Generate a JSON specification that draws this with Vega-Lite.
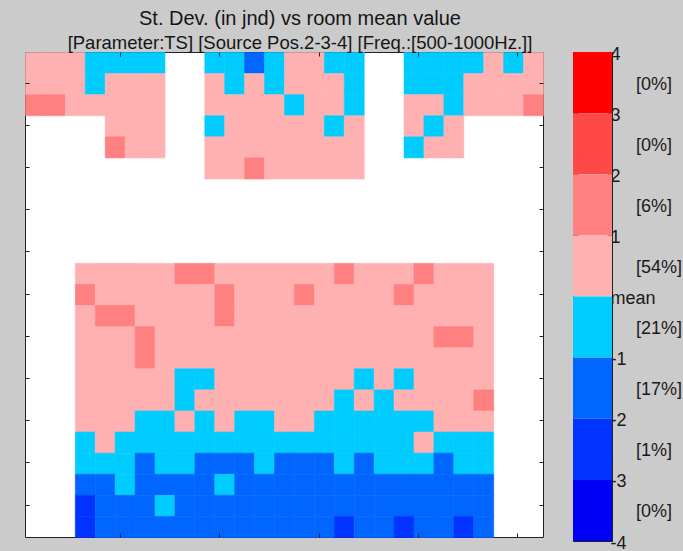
{
  "$schema": "https://vega.github.io/schema/vega-lite/v6.json",
  "background": "#CBCBCB",
  "padding": {"left": 24, "top": 8, "right": 0, "bottom": 0},
  "config": {
    "font": "Liberation Sans",
    "view": {"stroke": "#222222", "fill": "white", "strokeWidth": 1},
    "axis": {"domain": false, "grid": false, "labels": false, "tickColor": "#222222", "tickSize": -4, "tickWidth": 1}
  },
  "datasets": {
    "cells": [
      {"x":0,"y":0,"v":1},{"x":1,"y":0,"v":1},{"x":2,"y":0,"v":1},{"x":3,"y":0,"v":-1},{"x":4,"y":0,"v":-1},{"x":5,"y":0,"v":-1},{"x":6,"y":0,"v":-1},
      {"x":0,"y":1,"v":1},{"x":1,"y":1,"v":1},{"x":2,"y":1,"v":1},{"x":3,"y":1,"v":-1},{"x":4,"y":1,"v":1},{"x":5,"y":1,"v":1},{"x":6,"y":1,"v":1},
      {"x":0,"y":2,"v":2},{"x":1,"y":2,"v":2},{"x":2,"y":2,"v":1},{"x":3,"y":2,"v":1},{"x":4,"y":2,"v":1},{"x":5,"y":2,"v":1},{"x":6,"y":2,"v":1},
      {"x":4,"y":3,"v":1},{"x":5,"y":3,"v":1},{"x":6,"y":3,"v":1},
      {"x":4,"y":4,"v":2},{"x":5,"y":4,"v":1},{"x":6,"y":4,"v":1},

      {"x":9,"y":0,"v":-1},{"x":10,"y":0,"v":-1},{"x":11,"y":0,"v":-2},{"x":12,"y":0,"v":-1},{"x":13,"y":0,"v":1},{"x":14,"y":0,"v":1},{"x":15,"y":0,"v":-1},{"x":16,"y":0,"v":-1},
      {"x":9,"y":1,"v":1},{"x":10,"y":1,"v":-1},{"x":11,"y":1,"v":1},{"x":12,"y":1,"v":-1},{"x":13,"y":1,"v":1},{"x":14,"y":1,"v":1},{"x":15,"y":1,"v":1},{"x":16,"y":1,"v":-1},
      {"x":9,"y":2,"v":1},{"x":10,"y":2,"v":1},{"x":11,"y":2,"v":1},{"x":12,"y":2,"v":1},{"x":13,"y":2,"v":-1},{"x":14,"y":2,"v":1},{"x":15,"y":2,"v":1},{"x":16,"y":2,"v":-1},
      {"x":9,"y":3,"v":-1},{"x":10,"y":3,"v":1},{"x":11,"y":3,"v":1},{"x":12,"y":3,"v":1},{"x":13,"y":3,"v":1},{"x":14,"y":3,"v":1},{"x":15,"y":3,"v":-1},{"x":16,"y":3,"v":1},
      {"x":9,"y":4,"v":1},{"x":10,"y":4,"v":1},{"x":11,"y":4,"v":1},{"x":12,"y":4,"v":1},{"x":13,"y":4,"v":1},{"x":14,"y":4,"v":1},{"x":15,"y":4,"v":1},{"x":16,"y":4,"v":1},
      {"x":9,"y":5,"v":1},{"x":10,"y":5,"v":1},{"x":11,"y":5,"v":2},{"x":12,"y":5,"v":1},{"x":13,"y":5,"v":1},{"x":14,"y":5,"v":1},{"x":15,"y":5,"v":1},{"x":16,"y":5,"v":1},

      {"x":19,"y":0,"v":-1},{"x":20,"y":0,"v":-1},{"x":21,"y":0,"v":-1},{"x":22,"y":0,"v":-1},{"x":23,"y":0,"v":1},{"x":24,"y":0,"v":-1},{"x":25,"y":0,"v":1},
      {"x":19,"y":1,"v":-1},{"x":20,"y":1,"v":-1},{"x":21,"y":1,"v":-1},{"x":22,"y":1,"v":1},{"x":23,"y":1,"v":1},{"x":24,"y":1,"v":1},{"x":25,"y":1,"v":1},
      {"x":19,"y":2,"v":1},{"x":20,"y":2,"v":1},{"x":21,"y":2,"v":-1},{"x":22,"y":2,"v":1},{"x":23,"y":2,"v":1},{"x":24,"y":2,"v":1},{"x":25,"y":2,"v":2},
      {"x":19,"y":3,"v":1},{"x":20,"y":3,"v":-1},{"x":21,"y":3,"v":1},
      {"x":19,"y":4,"v":-1},{"x":20,"y":4,"v":1},{"x":21,"y":4,"v":1},

      {"x":2.5,"y":10,"v":1},{"x":3.5,"y":10,"v":1},{"x":4.5,"y":10,"v":1},{"x":5.5,"y":10,"v":1},{"x":6.5,"y":10,"v":1},{"x":7.5,"y":10,"v":2},{"x":8.5,"y":10,"v":2},{"x":9.5,"y":10,"v":1},{"x":10.5,"y":10,"v":1},{"x":11.5,"y":10,"v":1},{"x":12.5,"y":10,"v":1},{"x":13.5,"y":10,"v":1},{"x":14.5,"y":10,"v":1},{"x":15.5,"y":10,"v":2},{"x":16.5,"y":10,"v":1},{"x":17.5,"y":10,"v":1},{"x":18.5,"y":10,"v":1},{"x":19.5,"y":10,"v":2},{"x":20.5,"y":10,"v":1},{"x":21.5,"y":10,"v":1},{"x":22.5,"y":10,"v":1},
      {"x":2.5,"y":11,"v":2},{"x":3.5,"y":11,"v":1},{"x":4.5,"y":11,"v":1},{"x":5.5,"y":11,"v":1},{"x":6.5,"y":11,"v":1},{"x":7.5,"y":11,"v":1},{"x":8.5,"y":11,"v":1},{"x":9.5,"y":11,"v":2},{"x":10.5,"y":11,"v":1},{"x":11.5,"y":11,"v":1},{"x":12.5,"y":11,"v":1},{"x":13.5,"y":11,"v":2},{"x":14.5,"y":11,"v":1},{"x":15.5,"y":11,"v":1},{"x":16.5,"y":11,"v":1},{"x":17.5,"y":11,"v":1},{"x":18.5,"y":11,"v":2},{"x":19.5,"y":11,"v":1},{"x":20.5,"y":11,"v":1},{"x":21.5,"y":11,"v":1},{"x":22.5,"y":11,"v":1},
      {"x":2.5,"y":12,"v":1},{"x":3.5,"y":12,"v":2},{"x":4.5,"y":12,"v":2},{"x":5.5,"y":12,"v":1},{"x":6.5,"y":12,"v":1},{"x":7.5,"y":12,"v":1},{"x":8.5,"y":12,"v":1},{"x":9.5,"y":12,"v":2},{"x":10.5,"y":12,"v":1},{"x":11.5,"y":12,"v":1},{"x":12.5,"y":12,"v":1},{"x":13.5,"y":12,"v":1},{"x":14.5,"y":12,"v":1},{"x":15.5,"y":12,"v":1},{"x":16.5,"y":12,"v":1},{"x":17.5,"y":12,"v":1},{"x":18.5,"y":12,"v":1},{"x":19.5,"y":12,"v":1},{"x":20.5,"y":12,"v":1},{"x":21.5,"y":12,"v":1},{"x":22.5,"y":12,"v":1},
      {"x":2.5,"y":13,"v":1},{"x":3.5,"y":13,"v":1},{"x":4.5,"y":13,"v":1},{"x":5.5,"y":13,"v":2},{"x":6.5,"y":13,"v":1},{"x":7.5,"y":13,"v":1},{"x":8.5,"y":13,"v":1},{"x":9.5,"y":13,"v":1},{"x":10.5,"y":13,"v":1},{"x":11.5,"y":13,"v":1},{"x":12.5,"y":13,"v":1},{"x":13.5,"y":13,"v":1},{"x":14.5,"y":13,"v":1},{"x":15.5,"y":13,"v":1},{"x":16.5,"y":13,"v":1},{"x":17.5,"y":13,"v":1},{"x":18.5,"y":13,"v":1},{"x":19.5,"y":13,"v":1},{"x":20.5,"y":13,"v":2},{"x":21.5,"y":13,"v":2},{"x":22.5,"y":13,"v":1},
      {"x":2.5,"y":14,"v":1},{"x":3.5,"y":14,"v":1},{"x":4.5,"y":14,"v":1},{"x":5.5,"y":14,"v":2},{"x":6.5,"y":14,"v":1},{"x":7.5,"y":14,"v":1},{"x":8.5,"y":14,"v":1},{"x":9.5,"y":14,"v":1},{"x":10.5,"y":14,"v":1},{"x":11.5,"y":14,"v":1},{"x":12.5,"y":14,"v":1},{"x":13.5,"y":14,"v":1},{"x":14.5,"y":14,"v":1},{"x":15.5,"y":14,"v":1},{"x":16.5,"y":14,"v":1},{"x":17.5,"y":14,"v":1},{"x":18.5,"y":14,"v":1},{"x":19.5,"y":14,"v":1},{"x":20.5,"y":14,"v":1},{"x":21.5,"y":14,"v":1},{"x":22.5,"y":14,"v":1},
      {"x":2.5,"y":15,"v":1},{"x":3.5,"y":15,"v":1},{"x":4.5,"y":15,"v":1},{"x":5.5,"y":15,"v":1},{"x":6.5,"y":15,"v":1},{"x":7.5,"y":15,"v":-1},{"x":8.5,"y":15,"v":-1},{"x":9.5,"y":15,"v":1},{"x":10.5,"y":15,"v":1},{"x":11.5,"y":15,"v":1},{"x":12.5,"y":15,"v":1},{"x":13.5,"y":15,"v":1},{"x":14.5,"y":15,"v":1},{"x":15.5,"y":15,"v":1},{"x":16.5,"y":15,"v":-1},{"x":17.5,"y":15,"v":1},{"x":18.5,"y":15,"v":-1},{"x":19.5,"y":15,"v":1},{"x":20.5,"y":15,"v":1},{"x":21.5,"y":15,"v":1},{"x":22.5,"y":15,"v":1},
      {"x":2.5,"y":16,"v":1},{"x":3.5,"y":16,"v":1},{"x":4.5,"y":16,"v":1},{"x":5.5,"y":16,"v":1},{"x":6.5,"y":16,"v":1},{"x":7.5,"y":16,"v":-1},{"x":8.5,"y":16,"v":1},{"x":9.5,"y":16,"v":1},{"x":10.5,"y":16,"v":1},{"x":11.5,"y":16,"v":1},{"x":12.5,"y":16,"v":1},{"x":13.5,"y":16,"v":1},{"x":14.5,"y":16,"v":1},{"x":15.5,"y":16,"v":-1},{"x":16.5,"y":16,"v":1},{"x":17.5,"y":16,"v":-1},{"x":18.5,"y":16,"v":1},{"x":19.5,"y":16,"v":1},{"x":20.5,"y":16,"v":1},{"x":21.5,"y":16,"v":1},{"x":22.5,"y":16,"v":2},
      {"x":2.5,"y":17,"v":1},{"x":3.5,"y":17,"v":1},{"x":4.5,"y":17,"v":1},{"x":5.5,"y":17,"v":-1},{"x":6.5,"y":17,"v":-1},{"x":7.5,"y":17,"v":1},{"x":8.5,"y":17,"v":-1},{"x":9.5,"y":17,"v":1},{"x":10.5,"y":17,"v":-1},{"x":11.5,"y":17,"v":-1},{"x":12.5,"y":17,"v":1},{"x":13.5,"y":17,"v":1},{"x":14.5,"y":17,"v":-1},{"x":15.5,"y":17,"v":-1},{"x":16.5,"y":17,"v":-1},{"x":17.5,"y":17,"v":-1},{"x":18.5,"y":17,"v":-1},{"x":19.5,"y":17,"v":-1},{"x":20.5,"y":17,"v":1},{"x":21.5,"y":17,"v":1},{"x":22.5,"y":17,"v":1},
      {"x":2.5,"y":18,"v":-1},{"x":3.5,"y":18,"v":1},{"x":4.5,"y":18,"v":-1},{"x":5.5,"y":18,"v":-1},{"x":6.5,"y":18,"v":-1},{"x":7.5,"y":18,"v":-1},{"x":8.5,"y":18,"v":-1},{"x":9.5,"y":18,"v":-1},{"x":10.5,"y":18,"v":-1},{"x":11.5,"y":18,"v":-1},{"x":12.5,"y":18,"v":-1},{"x":13.5,"y":18,"v":-1},{"x":14.5,"y":18,"v":-1},{"x":15.5,"y":18,"v":-1},{"x":16.5,"y":18,"v":-1},{"x":17.5,"y":18,"v":-1},{"x":18.5,"y":18,"v":-1},{"x":19.5,"y":18,"v":1},{"x":20.5,"y":18,"v":-1},{"x":21.5,"y":18,"v":-1},{"x":22.5,"y":18,"v":-1},
      {"x":2.5,"y":19,"v":-1},{"x":3.5,"y":19,"v":-1},{"x":4.5,"y":19,"v":-1},{"x":5.5,"y":19,"v":-2},{"x":6.5,"y":19,"v":-1},{"x":7.5,"y":19,"v":-1},{"x":8.5,"y":19,"v":-2},{"x":9.5,"y":19,"v":-2},{"x":10.5,"y":19,"v":-2},{"x":11.5,"y":19,"v":-1},{"x":12.5,"y":19,"v":-2},{"x":13.5,"y":19,"v":-2},{"x":14.5,"y":19,"v":-2},{"x":15.5,"y":19,"v":-1},{"x":16.5,"y":19,"v":-2},{"x":17.5,"y":19,"v":-1},{"x":18.5,"y":19,"v":-1},{"x":19.5,"y":19,"v":-1},{"x":20.5,"y":19,"v":-2},{"x":21.5,"y":19,"v":-1},{"x":22.5,"y":19,"v":-1},
      {"x":2.5,"y":20,"v":-2},{"x":3.5,"y":20,"v":-2},{"x":4.5,"y":20,"v":-1},{"x":5.5,"y":20,"v":-2},{"x":6.5,"y":20,"v":-2},{"x":7.5,"y":20,"v":-2},{"x":8.5,"y":20,"v":-2},{"x":9.5,"y":20,"v":-1},{"x":10.5,"y":20,"v":-2},{"x":11.5,"y":20,"v":-2},{"x":12.5,"y":20,"v":-2},{"x":13.5,"y":20,"v":-2},{"x":14.5,"y":20,"v":-2},{"x":15.5,"y":20,"v":-2},{"x":16.5,"y":20,"v":-2},{"x":17.5,"y":20,"v":-2},{"x":18.5,"y":20,"v":-2},{"x":19.5,"y":20,"v":-2},{"x":20.5,"y":20,"v":-2},{"x":21.5,"y":20,"v":-2},{"x":22.5,"y":20,"v":-2},
      {"x":2.5,"y":21,"v":-3},{"x":3.5,"y":21,"v":-2},{"x":4.5,"y":21,"v":-2},{"x":5.5,"y":21,"v":-2},{"x":6.5,"y":21,"v":-1},{"x":7.5,"y":21,"v":-2},{"x":8.5,"y":21,"v":-2},{"x":9.5,"y":21,"v":-2},{"x":10.5,"y":21,"v":-2},{"x":11.5,"y":21,"v":-2},{"x":12.5,"y":21,"v":-2},{"x":13.5,"y":21,"v":-2},{"x":14.5,"y":21,"v":-2},{"x":15.5,"y":21,"v":-2},{"x":16.5,"y":21,"v":-2},{"x":17.5,"y":21,"v":-2},{"x":18.5,"y":21,"v":-2},{"x":19.5,"y":21,"v":-2},{"x":20.5,"y":21,"v":-2},{"x":21.5,"y":21,"v":-2},{"x":22.5,"y":21,"v":-2},
      {"x":2.5,"y":22,"v":-3},{"x":3.5,"y":22,"v":-2},{"x":4.5,"y":22,"v":-2},{"x":5.5,"y":22,"v":-2},{"x":6.5,"y":22,"v":-2},{"x":7.5,"y":22,"v":-2},{"x":8.5,"y":22,"v":-2},{"x":9.5,"y":22,"v":-2},{"x":10.5,"y":22,"v":-2},{"x":11.5,"y":22,"v":-2},{"x":12.5,"y":22,"v":-2},{"x":13.5,"y":22,"v":-2},{"x":14.5,"y":22,"v":-2},{"x":15.5,"y":22,"v":-3},{"x":16.5,"y":22,"v":-2},{"x":17.5,"y":22,"v":-2},{"x":18.5,"y":22,"v":-3},{"x":19.5,"y":22,"v":-2},{"x":20.5,"y":22,"v":-2},{"x":21.5,"y":22,"v":-3},{"x":22.5,"y":22,"v":-2}
    ],
    "bands": [
      {"lo":3,"hi":4,"v":4},{"lo":2,"hi":3,"v":3},{"lo":1,"hi":2,"v":2},{"lo":0,"hi":1,"v":1},
      {"lo":-1,"hi":0,"v":-1},{"lo":-2,"hi":-1,"v":-2},{"lo":-3,"hi":-2,"v":-3},{"lo":-4,"hi":-3,"v":-4}
    ],
    "pcts": [
      {"mid":3.5,"t":"[0%]"},{"mid":2.5,"t":"[0%]"},{"mid":1.5,"t":"[6%]"},{"mid":0.5,"t":"[54%]"},
      {"mid":-0.5,"t":"[21%]"},{"mid":-1.5,"t":"[17%]"},{"mid":-2.5,"t":"[1%]"},{"mid":-3.5,"t":"[0%]"}
    ]
  },
  "hconcat": [
    {
      "width": 518,
      "height": 485,
      "title": {
        "text": "St. Dev. (in jnd) vs room mean value",
        "subtitle": "[Parameter:TS] [Source Pos.2-3-4] [Freq.:[500-1000Hz.]]",
        "font": "Liberation Sans",
        "subtitleFont": "Liberation Sans",
        "fontSize": 20,
        "subtitleFontSize": 18.5,
        "fontWeight": "normal",
        "color": "#151515",
        "subtitleColor": "#151515",
        "anchor": "middle",
        "offset": -1,
        "subtitlePadding": 5,
        "dx": 16
      },
      "data": {"name": "cells"},
      "layer": [
        {
          "mark": {"type": "rect", "strokeWidth": 0.6},
          "encoding": {
            "x": {"field": "x", "type": "quantitative", "bin": {"binned": true, "step": 1},
                  "scale": {"domain": [0, 26], "nice": false, "zero": false},
                  "axis": {"orient": "bottom", "title": null, "values": [4.78, 9.76, 14.74, 19.72, 24.7]}},
            "y": {"field": "y", "type": "quantitative", "bin": {"binned": true, "step": 1},
                  "scale": {"domain": [0, 23], "nice": false, "zero": false, "reverse": true},
                  "axis": {"orient": "left", "title": null, "values": [1.46, 3.46, 5.46, 7.46, 9.46, 11.46, 13.46, 15.46, 17.46, 19.46, 21.46]}},
            "color": {"field": "v", "type": "nominal",
                      "scale": {"domain": [-4, -3, -2, -1, 1, 2, 3, 4],
                                "range": ["#0000F5", "#0033FF", "#0066FF", "#00CCFF", "#FFB0B0", "#FF8080", "#FF4848", "#FF0000"]},
                      "legend": null},
            "stroke": {"field": "v", "type": "nominal",
                      "scale": {"domain": [-4, -3, -2, -1, 1, 2, 3, 4],
                                "range": ["#0000F5", "#0033FF", "#0066FF", "#00CCFF", "#FFB0B0", "#FF8080", "#FF4848", "#FF0000"]},
                      "legend": null}
          }
        },
        {
          "mark": {"type": "rect", "opacity": 0},
          "encoding": {
            "x": {"field": "x", "type": "quantitative", "bin": {"binned": true, "step": 1},
                  "axis": {"orient": "top", "title": null, "values": [4.78, 9.76, 14.74, 19.72, 24.7]}},
            "y": {"field": "y", "type": "quantitative", "bin": {"binned": true, "step": 1},
                  "axis": {"orient": "right", "title": null, "values": [1.46, 3.46, 5.46, 7.46, 9.46, 11.46, 13.46, 15.46, 17.46, 19.46, 21.46]}}
          }
        }
      ],
      "resolve": {"axis": {"x": "independent", "y": "independent"}}
    },
    {
      "width": 39,
      "height": 489,
      "layer": [
        {
          "data": {"name": "bands"},
          "mark": {"type": "rect"},
          "encoding": {
            "x": {"datum": 0, "type": "quantitative", "scale": {"domain": [0, 1], "nice": false, "zero": false}, "axis": null},
            "x2": {"datum": 1},
            "y": {"field": "lo", "type": "quantitative",
                  "scale": {"domain": [-4, 4], "nice": false, "zero": false},
                  "axis": {"orient": "left", "title": null, "tickSize": -5,
                           "values": [-4,-3.5,-3,-2.5,-2,-1.5,-1,-0.5,0,0.5,1,1.5,2,2.5,3,3.5,4]}},
            "y2": {"field": "hi"},
            "color": {"field": "v", "type": "nominal", "legend": null}
          }
        },
        {
          "data": {"name": "pcts"},
          "mark": {"type": "text", "align": "left", "baseline": "middle", "dx": 24, "dy": 2,
                   "fontSize": 18, "font": "Liberation Sans", "color": "#1a1a1a"},
          "encoding": {
            "x": {"datum": 1, "type": "quantitative", "axis": null},
            "y": {"field": "mid", "type": "quantitative",
                  "axis": {"orient": "right", "title": null, "tickSize": -5, "labels": true,
                           "labelFontSize": 18, "labelColor": "#1a1a1a", "labelFont": "Liberation Sans",
                           "labelPadding": 3, "labelOffset": 2, "labelOverlap": false, "labelAlign": "left",
                           "values": [-4,-3.5,-3,-2.5,-2,-1.5,-1,-0.5,0,0.5,1,1.5,2,2.5,3,3.5,4],
                           "labelExpr": "datum.value === 0 ? 'mean' : (datum.value % 1 === 0 ? '' + datum.value : '')"}},
            "text": {"field": "t"}
          }
        }
      ],
      "resolve": {"axis": {"y": "independent"}}
    }
  ],
  "spacing": 27
}
